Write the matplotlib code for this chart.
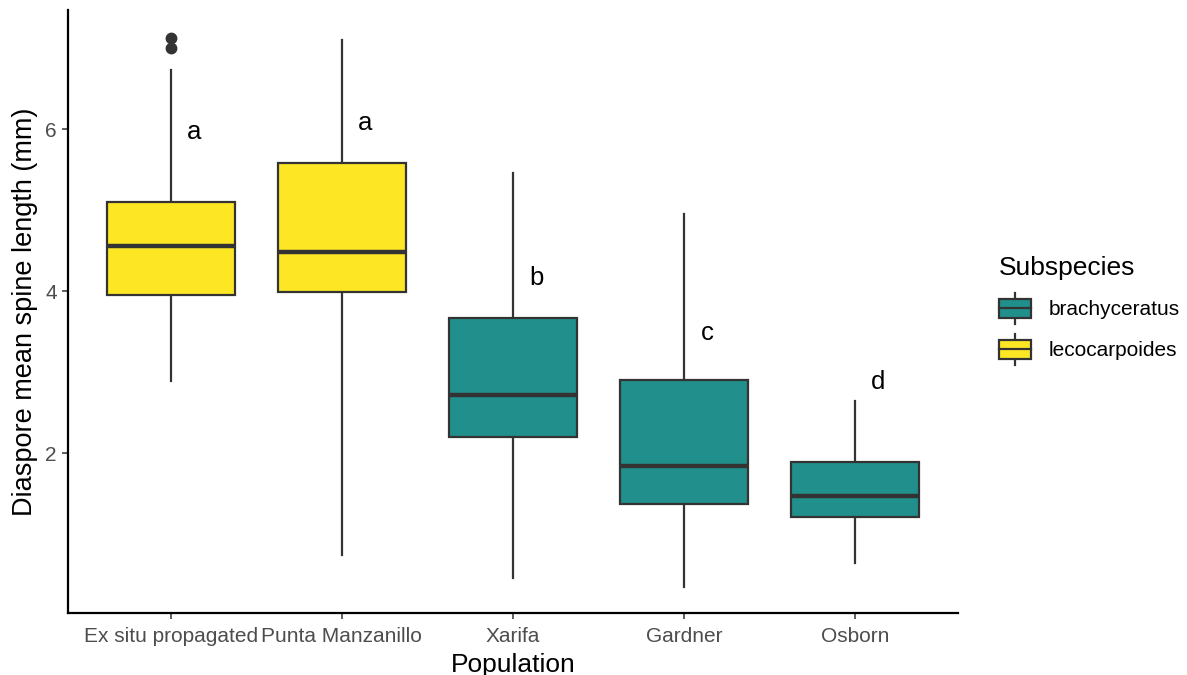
import matplotlib.pyplot as plt
from matplotlib.patches import Rectangle
from matplotlib.lines import Line2D
from matplotlib.legend_handler import HandlerBase

plt.rcParams['font.family'] = ['Liberation Sans', 'DejaVu Sans']

populations = ["Ex situ propagated", "Punta Manzanillo", "Xarifa", "Gardner", "Osborn"]
subspecies = ["lecocarpoides", "lecocarpoides", "brachyceratus", "brachyceratus", "brachyceratus"]

# five-number summaries per population
whisker_lo = [2.89, 0.74, 0.46, 0.35, 0.65]
q1 = [3.95, 3.99, 2.20, 1.37, 1.21]
median = [4.56, 4.48, 2.72, 1.84, 1.47]
q3 = [5.10, 5.58, 3.67, 2.91, 1.89]
whisker_hi = [6.73, 7.10, 5.46, 4.95, 2.64]
outliers = [[7.00, 7.12], [], [], [], []]

# significance letters and their heights
letters = ["a", "a", "b", "c", "d"]
letter_y = [5.97, 6.07, 4.16, 3.48, 2.88]

colors = {"brachyceratus": "#21908C", "lecocarpoides": "#FDE725"}
edge = "#333333"

fig = plt.figure(figsize=(11.87, 6.75), dpi=100)
ax = fig.add_axes([68 / 1187, 62 / 675, 890 / 1187, 603 / 675])

stats = []
for i, name in enumerate(populations):
    stats.append(dict(label=name, whislo=whisker_lo[i], q1=q1[i], med=median[i],
                      q3=q3[i], whishi=whisker_hi[i], fliers=outliers[i]))

positions = list(range(1, len(populations) + 1))
bp = ax.bxp(stats, positions=positions, widths=0.75, patch_artist=True,
            showcaps=False,
            boxprops=dict(edgecolor=edge, linewidth=1.6),
            medianprops=dict(color=edge, linewidth=3.2, solid_capstyle='butt'),
            whiskerprops=dict(color=edge, linewidth=1.6),
            flierprops=dict(marker='o', markerfacecolor=edge, markeredgecolor=edge,
                            markersize=7.5))
for box, sp in zip(bp['boxes'], subspecies):
    box.set_facecolor(colors[sp])
for w in bp['whiskers']:
    w.set_zorder(1)

for x, lab, y in zip(positions, letters, letter_y):
    ax.text(x + 0.135, y, lab, fontsize=18.5, ha='center', va='center', color='black')

ax.set_xlim(0.4, 5.6)
ax.set_ylim(0.03, 7.47)
ax.set_yticks([2, 4, 6])
ax.set_xticks(positions)
ax.set_xticklabels(populations)
ax.tick_params(axis='both', colors='#333333', labelcolor='#4D4D4D', labelsize=15,
               length=4, width=1.1, pad=4)
ax.tick_params(axis='x', pad=6)
for s in ['top', 'right']:
    ax.spines[s].set_visible(False)
for s in ['left', 'bottom']:
    ax.spines[s].set_linewidth(1.6)
    ax.spines[s].set_color('black')

ax.set_xlabel("Population", fontsize=19, labelpad=5)
ax.set_ylabel("Diaspore mean spine length (mm)", fontsize=19.5, labelpad=5)


class BoxHandler(HandlerBase):
    def create_artists(self, legend, orig_handle, xdescent, ydescent, width, height,
                       fontsize, trans):
        fc = orig_handle.get_facecolor()
        cx = width / 2 - xdescent
        y0 = -ydescent
        whisk = Line2D([cx, cx], [y0 - 0.15 * height, y0 + 1.15 * height],
                       color=edge, lw=1.6, transform=trans)
        rect = Rectangle((-xdescent, y0 + 0.1 * height), width, 0.8 * height,
                         facecolor=fc, edgecolor=edge, lw=1.6, transform=trans)
        med = Line2D([-xdescent, width - xdescent], [y0 + height / 2] * 2,
                     color=edge, lw=1.6, transform=trans)
        return [whisk, rect, med]


handles = [Rectangle((0, 0), 1, 1, facecolor=colors[k]) for k in ["brachyceratus", "lecocarpoides"]]
leg = fig.legend(handles, ["brachyceratus", "lecocarpoides"], title="Subspecies",
                 handler_map={Rectangle: BoxHandler()}, loc='upper left',
                 bbox_to_anchor=(980 / 1187, 1 - 237 / 675), frameon=False,
                 fontsize=15, title_fontsize=19, handlelength=1.55, handleheight=1.4,
                 handletextpad=0.85, labelspacing=0.8, alignment='left')

fig.savefig("out.png", dpi=100)
